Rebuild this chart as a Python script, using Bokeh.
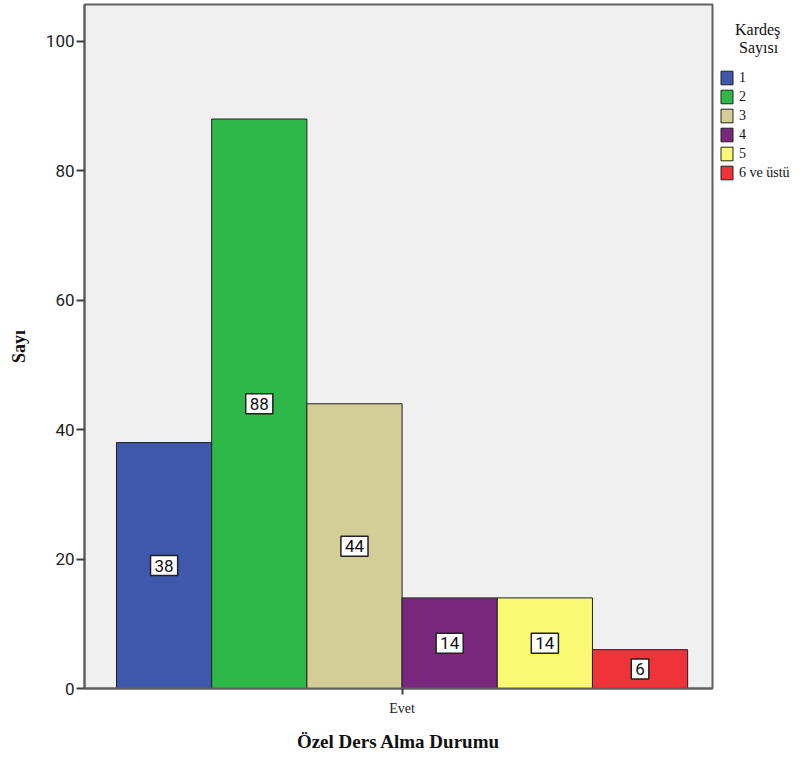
import numpy as np
from bokeh.plotting import figure
from bokeh.models import ColumnDataSource, Legend, LegendItem, FixedTicker, Range1d
from bokeh.core.properties import value
from bokeh.embed import file_html
from bokeh.resources import INLINE

# ---- data ----
categories = ["1", "2", "3", "4", "5", "6 ve üstü"]
counts = [38, 88, 44, 14, 14, 6]
colors = ["#3e58ac", "#2eb848", "#d3ce97", "#79287e", "#fbf873", "#ef3338"]
group_label = "Evet"
y_ticks = [0, 20, 40, 60, 80, 100]
legend_title = "Kardeş\nSayısı"

n = len(categories)
xpos = np.arange(n) - (n - 1) / 2.0

src = ColumnDataSource(dict(
    x=xpos, top=counts, mid=[c / 2.0 for c in counts],
    txt=[str(c) for c in counts], color=colors, cat=categories))

SANS = "Roboto, 'DejaVu Sans', sans-serif"
SERIF = "'Liberation Serif', 'DejaVu Serif', serif"

p = figure(frame_width=628, frame_height=684, output_backend="svg",
           toolbar_location=None,
           x_range=Range1d(-3.336, 3.261), y_range=Range1d(0, 105.7),
           min_border_left=84, min_border_right=80, min_border_top=4,
           min_border_bottom=0)
p.background_fill_color = "#f0f0f0"
p.border_fill_color = "white"
p.outline_line_color = "#606060"
p.outline_line_width = 2
p.xgrid.visible = False
p.ygrid.visible = False

r = p.vbar(x="x", top="top", width=1.0, bottom=0, source=src,
           fill_color="color", line_color="#202020", line_width=1)

p.text(x="x", y="mid", text="txt", source=src,
       text_align="center", text_baseline="middle",
       text_font=value(SANS), text_font_size="17px",
       text_color="#111111",
       background_fill_color="white", border_line_color="#202020",
       border_line_width=1.5, padding=4)

# y axis
p.yaxis.ticker = FixedTicker(ticks=y_ticks)
p.yaxis.minor_tick_line_color = None
p.yaxis.major_tick_in = 0
p.yaxis.major_tick_out = 8
p.yaxis.major_tick_line_color = "#404040"
p.yaxis.major_tick_line_width = 2
p.yaxis.axis_line_color = "#606060"
p.yaxis.axis_line_width = 2
p.yaxis.major_label_text_font = SANS
p.yaxis.major_label_text_font_size = "17px"
p.yaxis.major_label_text_color = "#222222"
p.yaxis.major_label_standoff = 2
p.yaxis.axis_label = "Sayı"
p.yaxis.axis_label_text_font = SERIF
p.yaxis.axis_label_text_font_style = "bold"
p.yaxis.axis_label_text_font_size = "18px"
p.yaxis.axis_label_text_color = "#111111"
p.yaxis.axis_label_standoff = 14

# x axis
p.xaxis.ticker = FixedTicker(ticks=[0])
p.xaxis.major_label_overrides = {0: group_label}
p.xaxis.minor_tick_line_color = None
p.xaxis.major_tick_in = 0
p.xaxis.major_tick_out = 6
p.xaxis.major_tick_line_color = "#404040"
p.xaxis.major_tick_line_width = 2
p.xaxis.axis_line_color = "#606060"
p.xaxis.axis_line_width = 2
p.xaxis.major_label_text_font = SERIF
p.xaxis.major_label_text_font_size = "14px"
p.xaxis.major_label_text_color = "#222222"
p.xaxis.major_label_standoff = 6
p.xaxis.axis_label = "Özel Ders Alma Durumu"
p.xaxis.axis_label_text_font = SERIF
p.xaxis.axis_label_text_font_style = "bold"
p.xaxis.axis_label_text_font_size = "19px"
p.xaxis.axis_label_text_color = "#111111"
p.xaxis.axis_label_standoff = 12

items = [LegendItem(label=c, renderers=[r], index=i) for i, c in enumerate(categories)]
pad_title = "\n".join("\u00a0" * k + line for k, line in
                      zip([4, 5], legend_title.split("\n")))
legend = Legend(items=items, location=(7, 507), orientation="vertical",
                title=pad_title, title_text_font=SERIF, title_text_font_size="16px",
                title_text_font_style="normal", title_text_color="#111111",
                title_text_line_height=1.375, title_standoff=12,
                glyph_width=15, glyph_height=17, label_height=17, spacing=2,
                label_standoff=5, padding=0, margin=0,
                border_line_color=None, background_fill_alpha=0,
                label_text_font=SERIF, label_text_font_size="14px",
                label_text_color="#111111", label_text_baseline="middle")
p.add_layout(legend, "right")

open("out.html", "w").write(file_html(p, INLINE))
